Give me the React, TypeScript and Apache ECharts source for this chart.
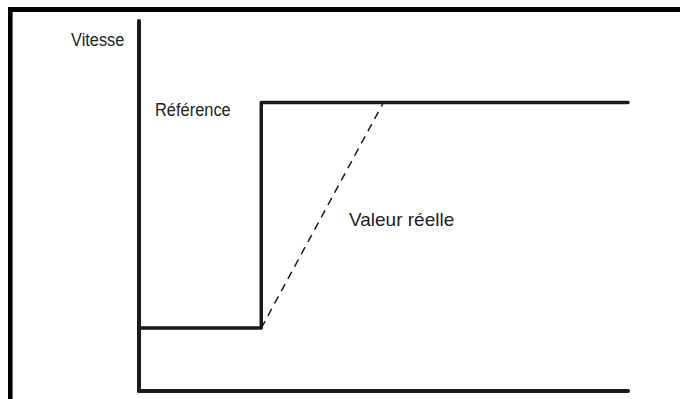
import React, { useEffect, useRef } from "react";
import * as echarts from "echarts";

// Time (x) and speed (y) values, in axis units (0..100)
const referenceX = [0, 25, 25, 100];
const referenceY = [17, 17, 78, 78];
const actualX = [25, 50];
const actualY = [17, 78];

const yAxisName = "Vitesse";
const referenceLabel = "Référence";
const actualLabel = "Valeur réelle";

const INK = "#1a1a1a";
const FONT = "'Liberation Sans', Arial, sans-serif";

export default function App() {
  const ref = useRef<HTMLDivElement>(null);
  useEffect(() => {
    if (!ref.current) return;
    const chart = echarts.init(ref.current, undefined, { renderer: "svg" });
    const textStyle = (t: string, align: string) => ({
      text: t,
      font: `19px ${FONT}`,
      fill: "#222",
      align,
      verticalAlign: "middle",
    });
    chart.setOption({
      animation: false,
      backgroundColor: "#fff",
      grid: { left: 139, right: 52, top: 21, bottom: 8 },
      xAxis: {
        type: "value",
        min: 0,
        max: 100,
        axisLine: { show: true, onZero: false, lineStyle: { color: INK, width: 4 } },
        axisTick: { show: false },
        axisLabel: { show: false },
        splitLine: { show: false },
      },
      yAxis: {
        type: "value",
        min: 0,
        max: 100,
        axisLine: { show: true, onZero: false, lineStyle: { color: INK, width: 4 } },
        axisTick: { show: false },
        axisLabel: { show: false },
        splitLine: { show: false },
      },
      series: [
        {
          name: referenceLabel,
          type: "line",
          data: referenceX.map((x, i) => [x, referenceY[i]]),
          symbol: "none",
          lineStyle: { color: INK, width: 3.5, join: "round", cap: "round" },
        },
        {
          name: actualLabel,
          type: "line",
          data: actualX.map((x, i) => [x, actualY[i]]),
          symbol: "none",
          lineStyle: { color: INK, width: 1.5, type: [8, 6] },
        },
      ],
      graphic: [
        { type: "rect", shape: { x: 8, y: 7, width: 672, height: 5 }, style: { fill: "#000" }, z: 100 },
        { type: "rect", shape: { x: 8, y: 7, width: 4.6, height: 392 }, style: { fill: "#000" }, z: 100 },
        { type: "text", x: 124.3, y: 39.1, scaleX: 0.86, style: textStyle(yAxisName, "right"), z: 100 },
        { type: "text", x: 155, y: 109.1, scaleX: 0.864, style: textStyle(referenceLabel, "left"), z: 100 },
        { type: "text", x: 349, y: 219.1, scaleX: 1.0, style: textStyle(actualLabel, "left"), z: 100 },
      ],
    });
    return () => chart.dispose();
  }, []);
  return (
    <div
      ref={ref}
      style={{ position: "fixed", left: 0, top: 0, width: 680, height: 399 }}
    />
  );
}
